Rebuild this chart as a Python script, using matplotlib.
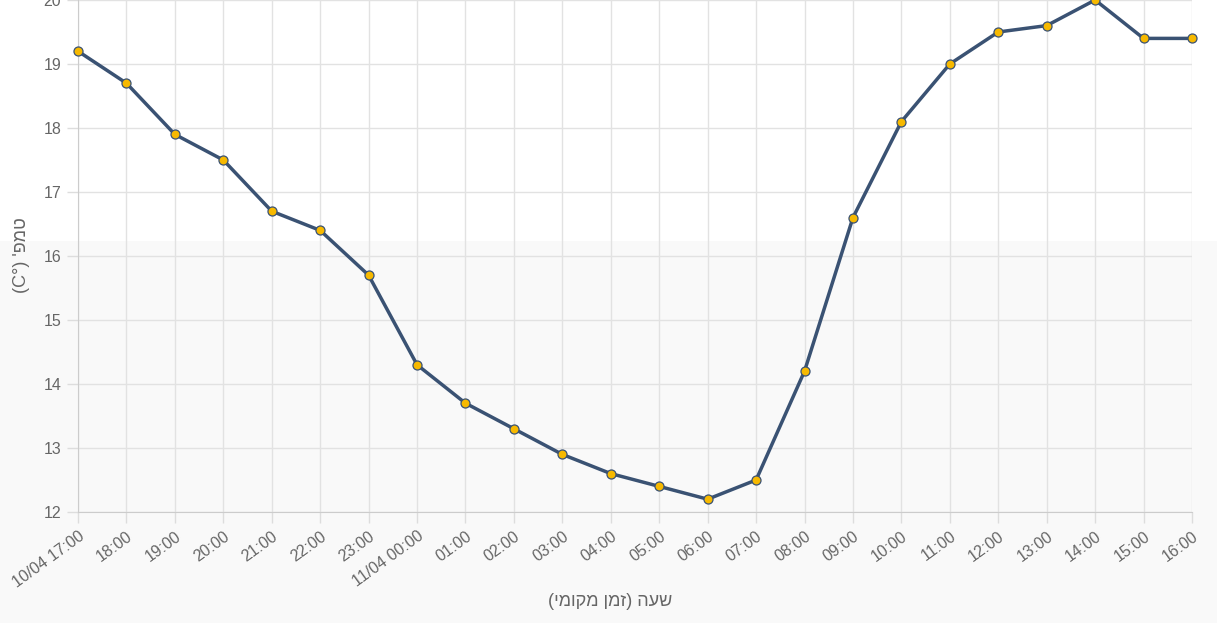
import matplotlib.pyplot as plt
from matplotlib.patches import Rectangle

# hourly temperature readings, local time
hours = ['10/04 17:00', '18:00', '19:00', '20:00', '21:00', '22:00', '23:00',
         '11/04 00:00', '01:00', '02:00', '03:00', '04:00', '05:00', '06:00',
         '07:00', '08:00', '09:00', '10:00', '11:00', '12:00', '13:00',
         '14:00', '15:00', '16:00']
temps = [19.2, 18.7, 17.9, 17.5, 16.7, 16.4, 15.7, 14.3, 13.7, 13.3, 12.9,
         12.6, 12.4, 12.2, 12.5, 14.2, 16.6, 18.1, 19.0, 19.5, 19.6, 20.0,
         19.4, 19.4]
y_ticks = [12, 13, 14, 15, 16, 17, 18, 19, 20]

# matplotlib has no bidi, so hebrew labels are written in visual order
x_title = '(ימוקמ ןמז) העש'
y_title = "(C°) 'פמט"

plt.rcParams['font.family'] = ['Liberation Sans', 'DejaVu Sans']

fig = plt.figure(figsize=(12.17, 6.23), dpi=100, facecolor='#f9f9f9')
# page background: white band at the top (kept behind the axes)
fig.patches.append(Rectangle((0, 1 - 241 / 623), 1, 241 / 623, transform=fig.transFigure,
                             facecolor='white', edgecolor='none', zorder=-10))

ax = fig.add_axes([78 / 1217, 1 - 512 / 623, (1192 - 78) / 1217, 512 / 623])
ax.patch.set_alpha(0)

x = list(range(len(hours)))
ax.plot(x, temps, color='#3a5273', linewidth=2.5, zorder=3, clip_on=False,
        marker='o', markersize=6.5, markerfacecolor='#f7b900',
        markeredgecolor='#3a5273', markeredgewidth=0.9)

ax.set_xlim(0, len(hours) - 1)
ax.set_ylim(12, 20)
ax.set_xticks(x)
ax.set_xticklabels(hours, rotation=36, ha='right', rotation_mode='anchor')
ax.set_yticks(y_ticks)

ax.grid(True, color='#e2e2e2', linewidth=1)
ax.set_axisbelow(True)
for side in ['top', 'right']:
    ax.spines[side].set_visible(False)
for side in ['left', 'bottom']:
    ax.spines[side].set_color('#cccccc')
ax.tick_params(axis='both', colors='#dddddd', length=8, width=1,
               labelcolor='#666666', labelsize=11.5, pad=4)
ax.tick_params(axis='y', labelsize=11.5)

fig.text(610 / 1217, 1 - 601 / 623, x_title, ha='center', va='center',
         fontsize=13, color='#666666')
fig.text(22 / 1217, 1 - 255 / 623, y_title, ha='center', va='center',
         rotation=90, fontsize=13, color='#666666')

fig.savefig('out.png', dpi=100, facecolor=fig.get_facecolor())
